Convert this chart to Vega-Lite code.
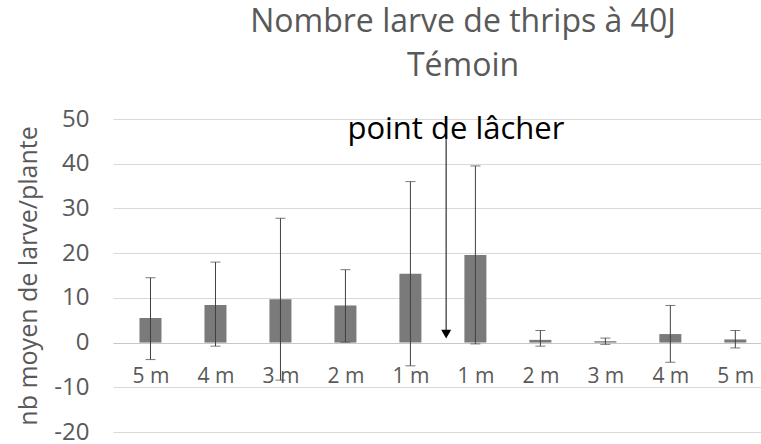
{
  "$schema": "https://vega.github.io/schema/vega-lite/v6.json",
  "width": 648,
  "height": 313,
  "autosize": {"type": "none"},
  "padding": {"left": 113, "top": 119, "right": 0, "bottom": 12},
  "background": "white",
  "config": {"view": {"stroke": null}, "font": "Open Sans"},
  "title": {
    "text": ["Nombre larve de thrips à 40J", "Témoin"],
    "fontSize": 32,
    "fontWeight": "normal",
    "color": "#595959",
    "anchor": "middle",
    "dx": 26,
    "offset": 24,
    "lineHeight": 44
  },
  "data": {
    "values": [
      {"id": 1, "label": "5 m", "mean": 5.5, "lo": -3.8, "hi": 14.5},
      {"id": 2, "label": "4 m", "mean": 8.4, "lo": -0.8, "hi": 18.0},
      {"id": 3, "label": "3 m", "mean": 9.7, "lo": -8.4, "hi": 27.8},
      {"id": 4, "label": "2 m", "mean": 8.3, "lo": 0.1, "hi": 16.3},
      {"id": 5, "label": "1 m", "mean": 15.4, "lo": -5.2, "hi": 36.0},
      {"id": 6, "label": "1 m", "mean": 19.6, "lo": -0.3, "hi": 39.5},
      {"id": 7, "label": "2 m", "mean": 0.6, "lo": -0.8, "hi": 2.7},
      {"id": 8, "label": "3 m", "mean": 0.3, "lo": -0.4, "hi": 1.0},
      {"id": 9, "label": "4 m", "mean": 1.9, "lo": -4.4, "hi": 8.3},
      {"id": 10, "label": "5 m", "mean": 0.7, "lo": -1.2, "hi": 2.7}
    ]
  },
  "layer": [
    {
      "mark": {"type": "bar", "size": 22, "color": "#7a7a7a"},
      "encoding": {
        "x": {
          "field": "id",
          "type": "quantitative",
          "scale": {"domain": [0.5, 10.3182], "nice": false, "zero": false},
          "axis": {
            "values": [1, 2, 3, 4, 5, 6, 7, 8, 9, 10],
            "labelExpr": "['5 m','4 m','3 m','2 m','1 m','1 m','2 m','3 m','4 m','5 m'][datum.value-1]",
            "title": null,
            "grid": false,
            "ticks": false,
            "offset": -89,
            "domainColor": "#c8c8c8",
            "labelFontSize": 21,
            "labelColor": "#595959",
            "labelPadding": 22,
            "labelFlush": false
          }
        },
        "y": {
          "field": "mean",
          "type": "quantitative",
          "title": "nb moyen de larve/plante",
          "scale": {"domain": [-20, 50], "nice": false},
          "axis": {
            "values": [-20, -10, 0, 10, 20, 30, 40, 50],
            "labelExpr": "datum.value < 0 ? '-' + abs(datum.value) : '' + datum.value",
            "titleFontSize": 25,
            "titleFontWeight": "normal",
            "titleColor": "#595959",
            "titlePadding": 12,
            "domain": false,
            "ticks": false,
            "gridColor": "#d9d9d9",
            "labelFontSize": 24,
            "labelColor": "#595959",
            "labelPadding": 24
          }
        }
      }
    },
    {
      "mark": {"type": "errorbar", "ticks": {"size": 10}, "color": "#404040"},
      "encoding": {
        "x": {"field": "id", "type": "quantitative"},
        "y": {"field": "lo", "type": "quantitative", "title": "nb moyen de larve/plante"},
        "y2": {"field": "hi"}
      }
    },
    {
      "data": {"values": [{"x": 5.55, "y": 50.5, "y2": 2.5}]},
      "mark": {"type": "rule", "color": "#303030", "strokeWidth": 1.2},
      "encoding": {
        "x": {"field": "x", "type": "quantitative"},
        "y": {"field": "y", "type": "quantitative"},
        "y2": {"field": "y2"}
      }
    },
    {
      "data": {"values": [{"x": 5.55, "y": 1.9}]},
      "mark": {"type": "point", "shape": "triangle-down", "filled": true, "color": "#000000", "size": 100, "opacity": 1},
      "encoding": {
        "x": {"field": "x", "type": "quantitative"},
        "y": {"field": "y", "type": "quantitative"}
      }
    },
    {
      "data": {"values": [{"x": 5.7, "y": 45.5, "text": "point de lâcher"}]},
      "mark": {"type": "text", "fontSize": 31, "color": "#000000", "baseline": "alphabetic", "align": "center"},
      "encoding": {
        "x": {"field": "x", "type": "quantitative"},
        "y": {"field": "y", "type": "quantitative"},
        "text": {"field": "text"}
      }
    }
  ]
}
